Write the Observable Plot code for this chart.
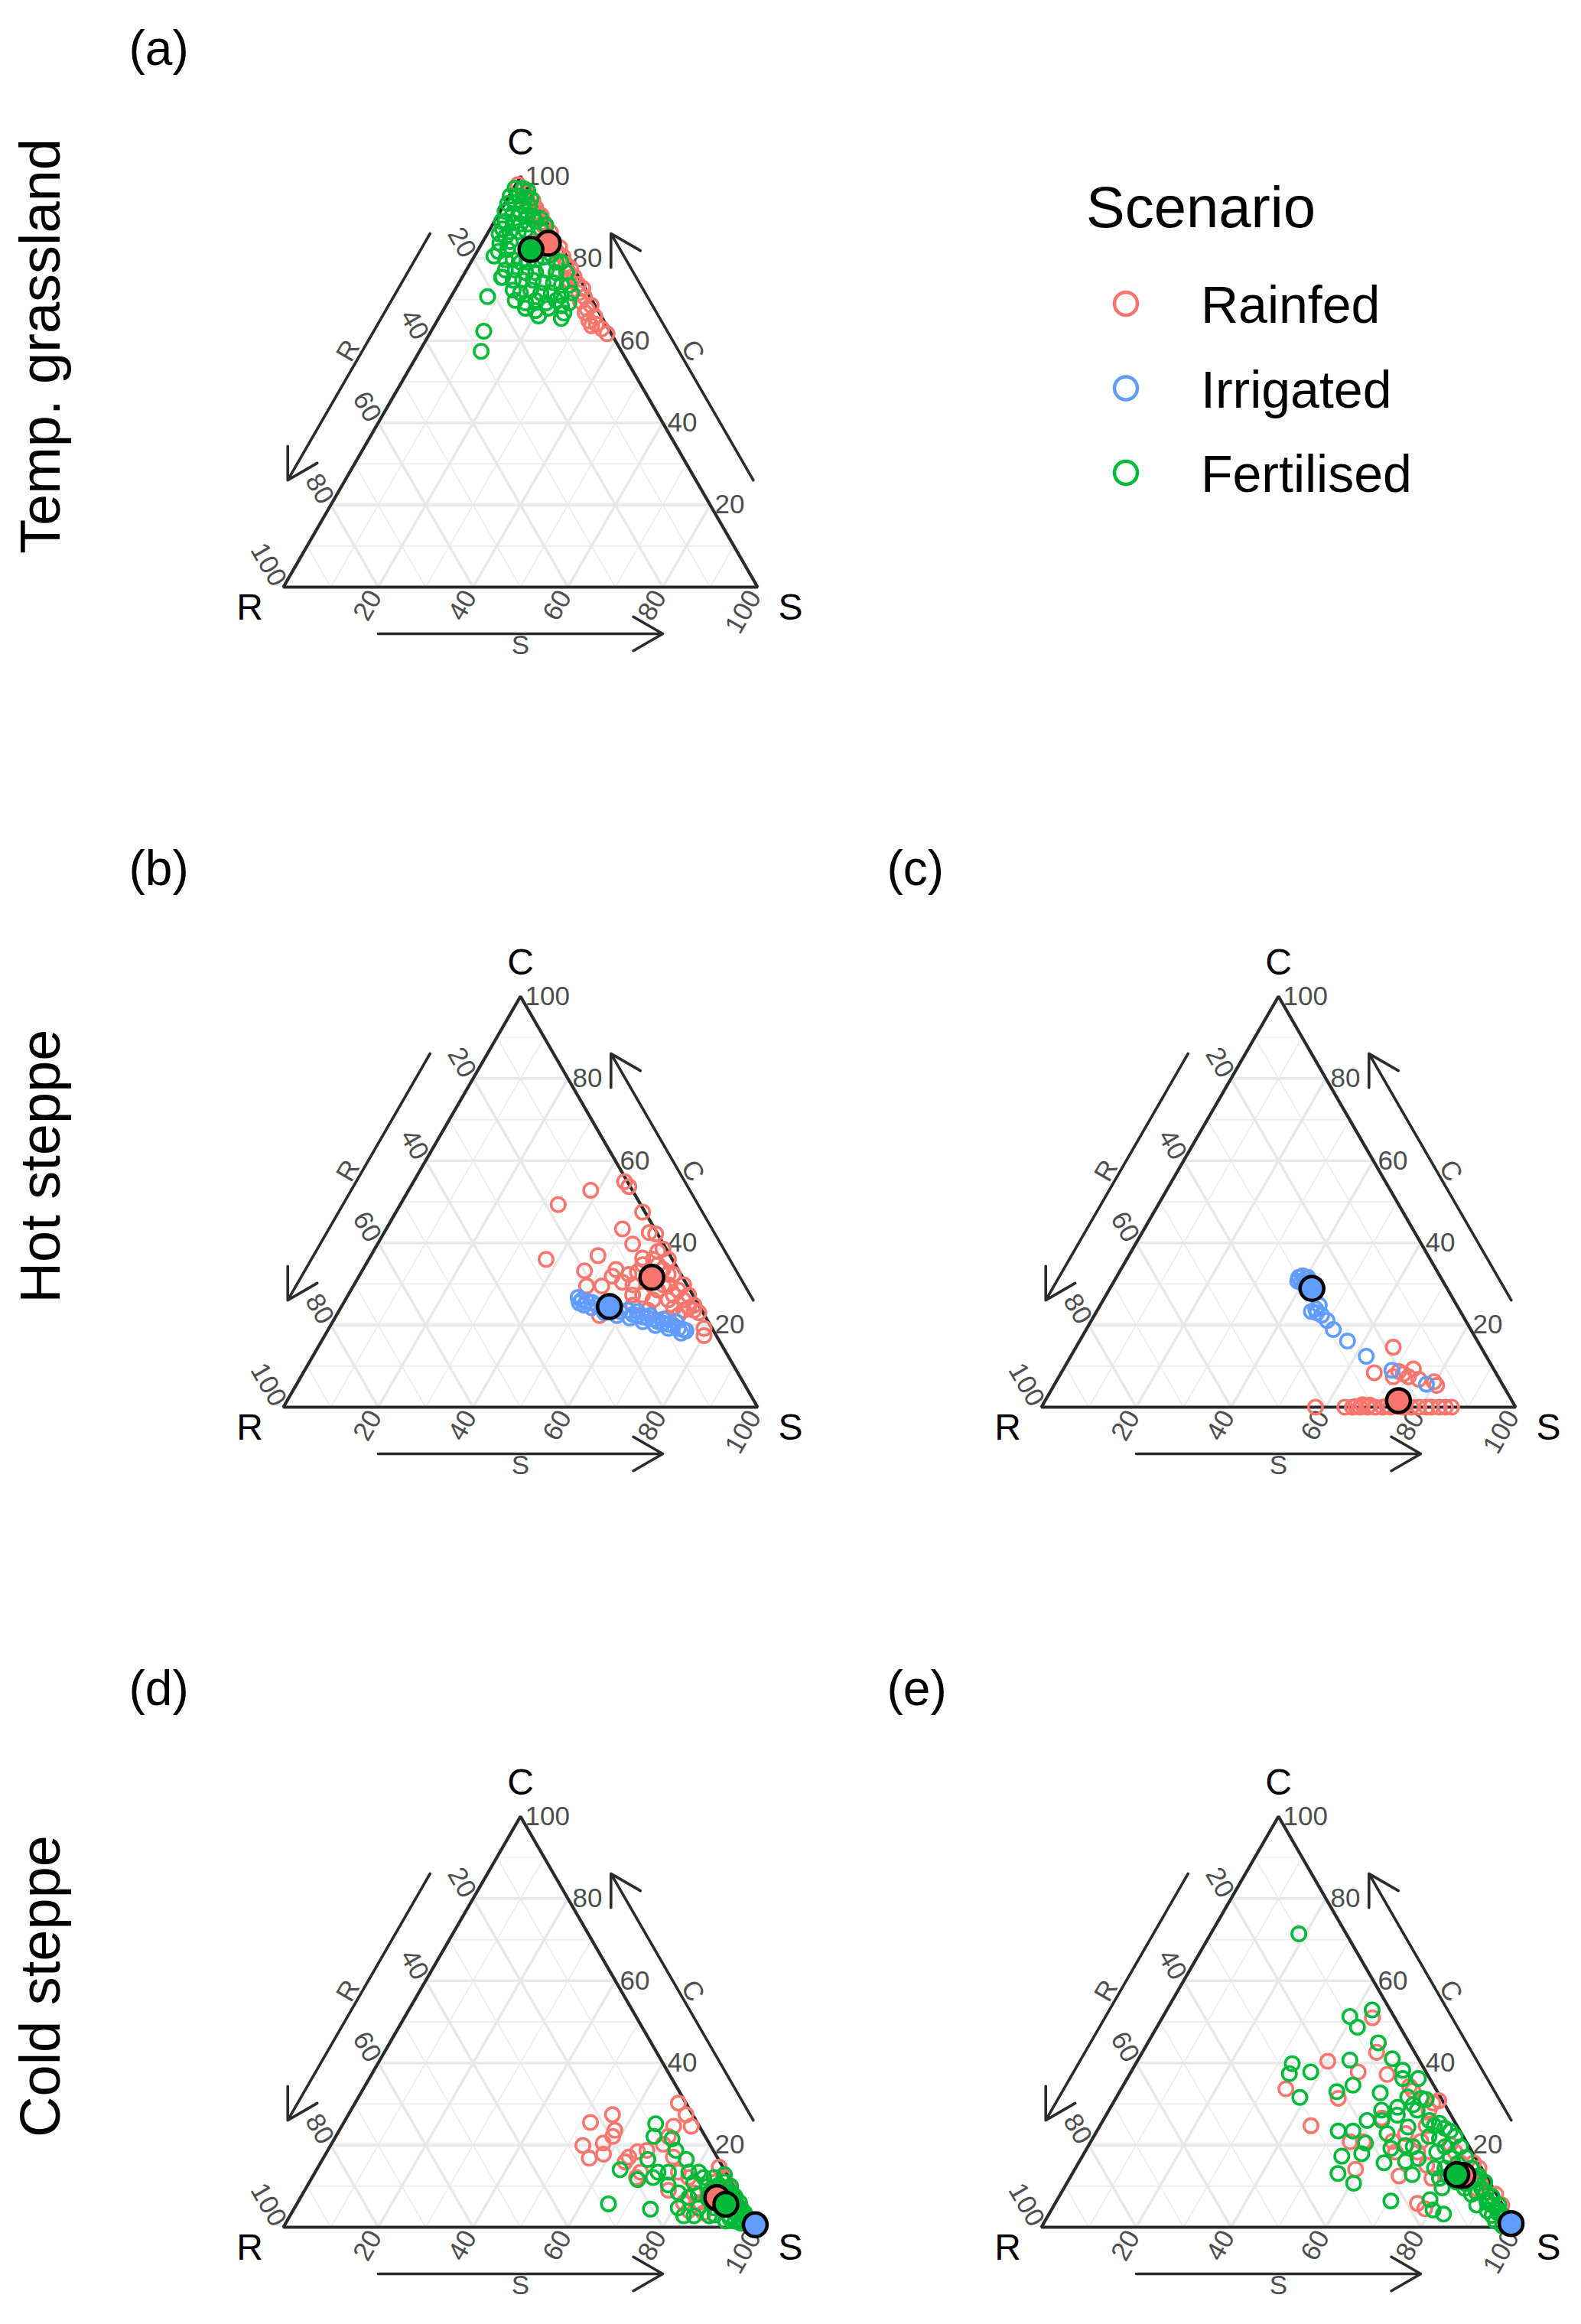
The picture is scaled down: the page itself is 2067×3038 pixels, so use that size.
<!DOCTYPE html>
<html><head><meta charset="utf-8">
<script src="https://cdn.jsdelivr.net/npm/d3@7"></script>
<script src="https://cdn.jsdelivr.net/npm/@observablehq/plot@0.6"></script>
<style>
html,body{margin:0;padding:0;background:#fff;}
#fig{position:relative;width:2067px;height:3038px;overflow:hidden;font-family:"Liberation Sans",Arial,Helvetica,sans-serif;background:#fff;}
.panel{position:absolute;}
.panel svg{overflow:visible;}
</style></head><body><div id="fig"></div>
<script>
// ---------- categories / styles ----------
const scenarios = ["Rainfed", "Irrigated", "Fertilised"];
const colours = ["#F8766D", "#619CFF", "#00BA38"];
const tickValues = [20, 40, 60, 80, 100];
const gridLevels = [10, 20, 30, 40, 50, 60, 70, 80, 90];
const rowLabels = ["Temp. grassland", "Hot steppe", "Cold steppe"];

// ---------- data: [R, S, C] in % ----------
// (a) Temp. grassland
const a_rainfed = [[1.5,0.5,98.0],[0.8,2.2,97.0],[0.5,3.5,96.0],[1.2,4.0,94.8],[0.3,5.5,94.2],[2.0,4.8,93.2],[0.6,7.0,92.4],[1.0,7.8,91.2],[0.4,9.1,90.5],[1.8,8.6,89.6],[0.7,10.5,88.8],[1.1,11.2,87.7],[2.5,10.6,86.9],[0.5,13.2,86.3],[1.3,13.5,85.2],[0.9,14.9,84.2],[2.2,14.5,83.3],[0.4,16.9,82.7],[1.5,17.0,81.5],[0.8,18.7,80.5],[2.0,18.6,79.4],[1.1,20.3,78.6],[0.6,21.8,77.6],[1.7,21.7,76.6],[0.9,23.5,75.6],[2.4,23.0,74.6],[1.0,25.3,73.7],[0.5,26.8,72.7],[1.9,26.5,71.6],[1.2,28.2,70.6],[2.6,27.8,69.6],[0.8,30.6,68.6],[2.1,30.2,67.7],[3.0,30.2,66.8],[1.4,32.7,65.9],[3.2,32.0,64.8],[2.0,34.0,64.0],[1.4,35.7,62.9],[3.2,33.2,63.6],[0.9,37.4,61.7]];
const a_fertilised = [[2.6,0.3,97.1],[1.0,2.0,97.0],[0.2,3.3,96.5],[4.6,0.2,95.2],[2.9,1.9,95.2],[1.5,3.6,94.9],[0.5,4.9,94.6],[6.0,0.6,93.4],[4.4,2.2,93.4],[3.1,4.1,92.8],[1.7,5.5,92.8],[7.5,1.0,91.5],[6.2,2.9,90.9],[4.5,4.6,90.9],[3.1,6.3,90.6],[2.2,7.5,90.3],[8.7,2.3,89.0],[7.2,4.1,88.7],[5.8,5.8,88.4],[4.2,7.4,88.4],[2.3,8.7,89.0],[0.9,9.4,89.7],[10.2,2.6,87.2],[9.0,4.5,86.5],[7.2,6.3,86.5],[5.5,7.6,86.9],[2.1,10.7,87.2],[0.6,11.3,88.1],[10.5,4.2,85.3],[10.1,5.8,84.1],[11.6,6.2,82.2],[13.3,7.0,79.7],[11.7,8.6,79.7],[10.4,10.5,79.1],[8.8,12.1,79.1],[6.9,13.4,79.7],[5.0,14.7,80.3],[3.0,16.1,80.9],[2.9,18.0,79.1],[1.9,19.0,79.1],[14.6,8.2,77.2],[12.5,10.3,77.2],[10.6,12.8,76.6],[8.5,14.9,76.6],[6.0,16.8,77.2],[4.2,19.2,76.6],[2.0,21.4,76.6],[16.1,8.5,75.4],[14.2,11.1,74.7],[12.2,13.1,74.7],[10.0,15.3,74.7],[8.2,17.7,74.1],[6.0,19.9,74.1],[4.6,21.9,73.5],[3.0,23.5,73.5],[15.4,12.3,72.3],[14.2,14.2,71.6],[11.7,16.0,72.3],[9.9,18.5,71.6],[7.7,20.7,71.6],[5.9,23.1,71.0],[3.4,25.0,71.6],[16.2,14.0,69.8],[14.3,16.5,69.2],[11.9,18.3,69.8],[10.0,20.8,69.2],[7.6,22.6,69.8],[5.2,25.6,69.2],[15.0,17.1,67.9],[13.2,19.5,67.3],[10.2,21.9,67.9],[7.1,24.4,68.5],[13.2,20.8,66.0],[8.7,25.9,65.4],[7.5,25.8,66.7],[15.3,4.1,80.6],[21.6,7.7,70.7],[26.6,11.1,62.3],[29.6,13.0,57.4],[16.3,8.3,75.4],[9.5,1.5,89.0],[11.5,2.5,86.0],[12.5,3.8,83.7],[13.8,4.5,81.7]];
const a_means = [["Rainfed",2.3,14.0,83.7],["Fertilised",6.7,11.1,82.2]];

// (b) Hot steppe, left
const b_rainfed = [[0.6,44.5,54.9],[0.3,46.0,53.7],[8.8,38.4,52.8],[17.4,33.3,49.3],[0.5,52.0,47.5],[6.8,49.8,43.4],[1.6,55.9,42.5],[0.4,57.4,42.2],[6.5,53.8,39.7],[26.6,37.4,36.0],[15.2,47.9,36.9],[6.1,57.6,36.3],[0.7,60.8,38.5],[19.9,46.9,33.2],[21.3,49.2,29.5],[18.1,52.4,29.5],[13.1,53.4,33.5],[14.7,53.4,31.9],[13.3,56.3,30.4],[11.4,58.8,29.8],[6.9,58.4,34.7],[2.1,60.0,37.9],[0.8,63.2,36.0],[3.2,63.3,33.5],[1.6,66.1,32.3],[3.9,66.3,29.8],[2.5,69.0,28.5],[6.8,64.7,28.5],[10.6,62.1,27.3],[9.0,64.9,26.1],[5.8,68.1,26.1],[2.6,71.3,26.1],[2.4,73.4,24.2],[5.6,70.2,24.2],[5.6,72.1,22.3],[1.6,74.8,23.6],[0.9,76.1,23.0],[1.7,79.1,19.2],[2.6,80.0,17.4],[22.2,55.5,22.3],[11.3,65.1,23.6],[13.9,61.3,24.8],[8.0,70.3,21.7],[11.0,56.7,32.3],[8.9,58.2,32.9],[6.8,62.8,30.4],[7.0,60.7,32.3],[12.7,60.0,27.3],[5.0,65.2,29.8],[0.7,69.5,29.8],[3.7,61.6,34.7],[4.0,60.0,36.0],[2.7,65.0,32.3],[0.9,71.8,27.3],[4.1,68.6,27.3],[1.0,74.2,24.8],[3.8,72.6,23.6]];
const b_irrigated = [[24.6,48.8,26.7],[24.0,49.9,26.1],[23.1,51.1,25.8],[22.2,52.3,25.5],[21.5,53.7,24.8],[20.7,55.1,24.2],[19.6,56.2,24.2],[18.3,58.1,23.6],[17.4,59.3,23.3],[15.6,60.8,23.6],[15.0,62.4,22.6],[14.2,63.5,22.3],[13.2,64.8,22.0],[12.3,66.0,21.7],[11.3,67.3,21.4],[10.6,68.6,20.8],[9.7,69.8,20.5],[8.7,71.1,20.2],[7.8,72.3,19.9],[7.1,73.7,19.2],[6.2,74.9,18.9],[5.8,75.6,18.6],[7.1,74.9,18.0],[9.2,71.6,19.2],[11.6,68.5,19.9],[13.8,65.4,20.8],[16.1,62.2,21.7],[18.5,59.2,22.3],[20.8,56.2,23.0],[22.9,52.9,24.2],[24.2,51.0,24.8],[24.9,49.7,25.4],[13.7,63.0,23.3],[11.5,66.2,22.3],[9.2,69.4,21.4],[6.8,72.4,20.8]];
const b_means = [["Rainfed",6.5,61.9,31.6],["Irrigated",19.0,56.5,24.5]];

// (c) Hot steppe, right
const c_rainfed = [[18.5,66.9,14.6],[25.6,66.0,8.4],[16.9,73.8,9.3],[19.6,72.3,8.1],[22.1,70.5,7.4],[20.3,71.0,8.7],[14.1,79.7,6.2],[14.0,80.7,5.3],[17.0,76.2,6.8],[18.9,73.7,7.4],[42.2,57.8,0],[36.0,64.0,0],[34.4,65.6,0],[32.8,67.2,0],[31.2,68.8,0],[29.6,70.4,0],[28.0,72.0,0],[26.4,73.6,0],[23.7,76.3,0],[22.0,78.0,0],[20.4,79.6,0],[18.8,81.2,0],[17.8,82.2,0],[16.1,83.9,0],[14.8,85.2,0],[13.5,86.5,0],[32.0,67.4,0.6],[30.5,69.0,0.5],[27.0,72.7,0.3],[25.0,74.6,0.4],[33.6,66.2,0.2],[24.8,75.0,0.2]];
const c_irrigated = [[29.9,38.5,31.6],[28.9,39.1,32.0],[28.4,40.2,31.4],[30.0,39.6,30.4],[29.1,40.2,30.7],[28.2,41.1,30.7],[30.6,38.7,30.7],[29.7,40.5,29.8],[28.7,41.5,29.8],[27.6,42.3,30.1],[28.0,40.4,31.6],[29.0,46.2,24.8],[31.4,45.3,23.3],[30.4,46.6,23.0],[29.7,47.9,22.4],[29.2,49.7,21.1],[29.0,52.1,18.9],[27.4,56.5,16.1],[25.3,62.3,12.4],[21.6,69.4,9.0],[16.0,78.4,5.6],[30.2,45.9,23.9]];
const c_means = [["Rainfed",23.9,74.5,1.6],["Irrigated",28.5,42.6,28.9]];

// (d) Cold steppe, left
const d_rainfed = [[22.5,52.0,25.5],[16.9,55.7,27.4],[26.9,53.2,19.9],[27.1,56.1,16.8],[22.3,57.2,20.5],[18.3,58.1,23.6],[19.5,58.4,22.1],[23.6,58.6,17.8],[18.6,64.3,17.1],[16.1,65.5,18.4],[14.0,67.3,18.7],[20.0,64.1,15.9],[19.5,68.4,12.1],[18.0,68.6,13.4],[1.6,68.2,30.2],[1.4,71.2,27.4],[1.7,73.7,24.6],[5.4,70.0,24.6],[9.8,70.0,20.2],[7.8,70.1,22.1],[9.2,73.7,17.1],[0.8,84.6,14.6],[14.3,76.7,9.0],[8.5,79.4,12.1],[9.2,82.4,8.4],[9.4,84.6,6.0],[6.6,86.2,7.2],[12.5,83.4,4.1],[9.6,86.9,3.5],[1.0,86.9,12.1],[1.1,89.2,9.7],[10.0,76.6,13.4],[12.7,81.4,5.9],[3.7,85.4,10.9]];
const d_irrigated = [[0.3,99.5,0.2],[0.5,99.0,0.5],[0.2,99.3,0.5]];
const d_fertilised = [[8.9,65.9,25.2],[10.8,67.1,22.1],[7.3,71.2,21.5],[7.9,73.4,18.7],[6.8,76.7,16.5],[22.0,64.0,14.0],[14.9,68.6,16.5],[19.5,68.9,11.6],[16.0,71.9,12.1],[14.3,72.3,13.4],[12.1,74.5,13.4],[28.6,65.7,5.7],[20.4,75.2,4.4],[13.7,76.0,10.3],[12.5,79.1,8.4],[7.8,78.8,13.4],[8.0,81.1,10.9],[5.7,80.9,13.4],[5.3,82.6,12.1],[10.9,81.9,7.2],[10.1,85.2,4.7],[12.0,85.2,2.8],[6.0,85.6,8.4],[3.1,84.8,12.1],[3.0,86.7,10.3],[2.8,88.8,8.4],[2.3,90.5,7.2],[1.8,92.2,6.0],[1.5,93.8,4.7],[1.0,95.5,3.5],[6.8,88.5,4.7],[8.8,88.4,2.8],[4.5,92.7,2.8],[0.6,86.6,12.8],[14.2,83.0,2.8],[14.4,80.9,4.7],[0.5,98.5,1.0],[1.5,97.0,1.5],[3.0,96.0,1.0],[1.0,96.5,2.5],[2.5,94.0,3.5],[4.0,94.5,1.5],[0.8,97.8,1.4],[6.0,92.5,1.5],[4.0,89.0,7.0],[5.0,87.5,7.5],[3.5,90.5,6.0],[7.0,86.0,7.0],[2.0,88.5,9.5],[5.5,84.5,10.0],[8.5,83.5,8.0],[4.5,86.0,9.5],[2.0,91.0,7.0],[3.5,91.5,5.0],[1.5,90.0,8.5],[2.5,92.5,5.0],[1.2,94.3,4.5],[4.5,91.0,4.5],[3.0,93.5,3.5],[1.8,95.2,3.0],[0.8,93.2,6.0],[5.5,90.0,4.5],[2.2,96.3,1.5],[4.8,93.2,2.0],[7.5,89.5,3.0],[1.0,91.5,7.5],[0.7,89.3,10.0],[1.5,87.5,11.0],[3.0,89.5,7.5]];
const d_means = [["Rainfed",5.0,87.8,7.2],["Irrigated",0.2,99.2,0.6],["Fertilised",3.9,90.5,5.6]];

// (e) Cold steppe, right
const e_rainfed = [[19.4,40.2,40.4],[4.7,44.3,51.0],[14.3,47.9,37.8],[8.5,54.3,37.2],[8.0,49.4,42.6],[31.6,34.7,33.7],[21.7,46.9,31.4],[30.8,44.5,24.7],[5.2,60.5,34.3],[5.0,61.7,33.3],[2.3,67.5,30.2],[4.0,67.5,28.5],[14.9,58.5,26.6],[24.5,54.7,20.8],[21.7,57.5,20.8],[26.7,59.2,14.1],[18.3,69.2,12.5],[17.8,76.4,5.8],[16.9,78.6,4.5],[16.2,65.5,18.3],[11.5,70.2,18.3],[11.2,73.7,15.1],[11.7,76.4,11.9],[9.5,69.6,20.9],[11.8,65.4,22.8],[1.0,83.3,15.7],[0.5,85.1,14.4],[2.1,87.3,10.6],[0.2,91.8,8.0],[0.2,94.4,5.4],[15.5,63.6,20.9],[6.5,68.8,24.7],[0.8,68.4,30.8],[3.7,76.1,20.2],[3.6,78.1,18.3],[3.8,80.5,15.7],[4.3,83.2,12.5],[3.5,87.2,9.3]];
const e_irrigated = [[0.3,99.5,0.2],[0.6,99.0,0.4]];
const e_fertilised = [[10.0,18.6,71.4],[3.8,43.3,52.9],[9.3,39.4,51.3],[9.0,42.3,48.7],[6.5,48.6,44.9],[5.5,53.5,41.0],[14.6,44.7,40.7],[27.2,33.0,39.8],[29.0,33.6,37.4],[24.3,37.9,37.8],[4.7,57.1,38.2],[5.7,58.1,36.2],[2.4,61.4,36.2],[17.0,48.4,34.6],[21.2,45.8,33.0],[29.7,38.7,31.6],[12.2,55.1,32.7],[4.2,64.4,31.4],[3.3,65.6,31.1],[6.7,63.5,29.8],[6.5,65.0,28.5],[14.0,57.5,28.5],[11.3,61.4,27.3],[18.3,55.7,26.0],[25.7,50.9,23.4],[22.6,54.0,23.4],[21.4,58.1,20.5],[15.7,61.5,22.8],[10.5,65.1,24.4],[13.3,66.8,19.9],[16.7,64.1,19.2],[23.5,58.6,17.9],[28.0,54.7,17.3],[30.9,56.0,13.1],[28.8,60.5,10.7],[19.9,64.4,15.7],[15.2,68.8,16.0],[12.2,71.1,16.7],[15.4,71.8,12.8],[23.1,70.5,6.4],[14.7,78.6,6.7],[15.3,80.5,4.2],[13.6,83.2,3.2],[10.7,79.7,9.6],[5.2,68.8,26.0],[4.8,70.5,24.7],[3.4,71.3,25.3],[2.9,73.0,24.1],[2.1,74.5,23.4],[7.2,70.7,22.1],[5.3,73.2,21.5],[1.7,76.2,22.1],[5.1,75.3,19.6],[1.8,78.6,19.6],[7.5,74.2,18.3],[5.3,77.7,17.0],[2.0,81.0,17.0],[9.9,75.7,14.4],[7.7,77.9,14.4],[2.1,83.5,14.4],[10.1,78.0,11.9],[5.2,84.2,10.6],[2.3,85.8,11.9],[5.3,86.7,8.0],[2.5,88.2,9.3],[2.7,90.6,6.7],[5.5,89.1,5.4],[2.2,92.4,5.4],[1.7,94.1,4.2],[3.5,93.6,2.9],[1.3,95.8,2.9],[2.6,97.1,0.3],[0.8,97.6,1.6],[11.8,68.6,19.6],[6.9,61.4,31.7],[10.3,60.5,29.2],[15.2,58.8,26.0],[1.5,86.0,12.5],[3.0,85.5,11.5],[1.0,88.0,11.0],[2.0,89.5,8.5],[4.0,87.5,8.5],[1.2,91.3,7.5],[3.0,91.0,6.0],[0.8,93.7,5.5],[2.0,94.5,3.5],[4.0,92.0,4.0],[1.0,96.5,2.5],[3.5,95.0,1.5],[6.5,80.0,13.5],[8.0,79.5,12.5],[7.0,82.0,11.0],[4.5,80.0,15.5],[6.0,84.5,9.5]];
const e_means = [["Rainfed",4.8,82.6,12.6],["Irrigated",0.5,98.6,0.9],["Fertilised",6.0,81.2,12.8]];

const panels = [
  {tag: "(a)", row: 0, col: 0, series: {Rainfed: a_rainfed, Fertilised: a_fertilised}, means: a_means},
  {tag: "(b)", row: 1, col: 0, series: {Rainfed: b_rainfed, Irrigated: b_irrigated}, means: b_means},
  {tag: "(c)", row: 1, col: 1, series: {Rainfed: c_rainfed, Irrigated: c_irrigated}, means: c_means},
  {tag: "(d)", row: 2, col: 0, series: {Rainfed: d_rainfed, Irrigated: d_irrigated, Fertilised: d_fertilised}, means: d_means},
  {tag: "(e)", row: 2, col: 1, series: {Rainfed: e_rainfed, Irrigated: e_irrigated, Fertilised: e_fertilised}, means: e_means}
];

// ---------- layout ----------
const W = 1076, H = 894, RX = 370, BASE = 767, UX = 6.2, UY = 5.37;
const COL = 991, ROW = 1072;
const FONT = "Liberation Sans, Arial, Helvetica, sans-serif";
const INK = "#2B2B2B", TICK = "#4D4D4D";

const X = d => d.S + d.C / 2;
const Y = d => d.C;

function makePanel(p) {
  const pts = [];
  scenarios.forEach(s => (p.series[s] || []).forEach(v => pts.push({scenario: s, R: v[0], S: v[1], C: v[2]})));
  const means = p.means.map(m => ({scenario: m[0], R: m[1], S: m[2], C: m[3]}));
  means.sort((a, b) => scenarios.indexOf(a.scenario) - scenarios.indexOf(b.scenario));

  const grid = gridLevels.flatMap(k => [
    {k, a: {R: 100 - k, S: 0, C: k}, b: {R: 0, S: 100 - k, C: k}},
    {k, a: {R: 100 - k, S: k, C: 0}, b: {R: 0, S: k, C: 100 - k}},
    {k, a: {R: k, S: 100 - k, C: 0}, b: {R: k, S: 0, C: 100 - k}}
  ]);
  const linkOpts = {x1: g => X(g.a), y1: g => Y(g.a), x2: g => X(g.b), y2: g => Y(g.b)};

  const vR = {R: 100, S: 0, C: 0}, vS = {R: 0, S: 100, C: 0}, vC = {R: 0, S: 0, C: 100};
  const dA = 65 / UY, dAb = 61 / UY, dL = 81 / UY, dLb = 76 / UY;
  const leftPt = (f, d) => ({R: 100 * f + d / 2, S: -d, C: 100 * (1 - f) + d / 2});
  const rightPt = (f, d) => ({R: -d, S: 100 * (1 - f) + d / 2, C: 100 * f + d / 2});
  const bottomPt = (f, d) => ({R: 100 * (1 - f) + d / 2, S: 100 * f + d / 2, C: -d});
  const arrows = [
    {a: leftPt(0.2, dA), b: leftPt(0.8, dA)},
    {a: rightPt(0.2, dA), b: rightPt(0.8, dA)},
    {a: bottomPt(0.2, dAb), b: bottomPt(0.8, dAb)}
  ];
  const arrowLabels = [
    {...leftPt(0.5, dL), text: "R", rot: -60},
    {...rightPt(0.5, dL), text: "C", rot: 60},
    {...bottomPt(0.5, dLb), text: "S", rot: 0}
  ];
  const rightTicks = tickValues.map(v => ({v, R: 0, S: 100 - v, C: v}));
  const leftTicks = tickValues.map(v => ({v, R: v, S: 0, C: 100 - v}));
  const bottomTicks = tickValues.map(v => ({v, R: 100 - v, S: v, C: 0}));

  const marks = [
    Plot.link(grid.filter(g => g.k % 20 !== 0), {...linkOpts, stroke: "#EDEDED", strokeWidth: 1.8}),
    Plot.link(grid.filter(g => g.k % 20 === 0), {...linkOpts, stroke: "#E8E8E8", strokeWidth: 3.6}),
    Plot.line([vR, vS, vC, vR, vS], {x: X, y: Y, stroke: INK, strokeWidth: 4.2, strokeLinejoin: "miter", strokeLinecap: "butt"}),
    Plot.arrow(arrows, {x1: g => X(g.a), y1: g => Y(g.a), x2: g => X(g.b), y2: g => Y(g.b), stroke: INK, strokeWidth: 3.6, headLength: 18.5, headAngle: 60}),
    Plot.text(arrowLabels, {x: X, y: Y, text: "text", rotate: "rot", fontSize: 35, fill: TICK}),
    Plot.text(rightTicks, {x: X, y: Y, text: d => String(d.v), textAnchor: "start", dx: 6, fontSize: 35, fill: TICK}),
    Plot.text(leftTicks, {x: X, y: Y, text: d => String(d.v), textAnchor: "end", rotate: 60, dx: -5, dy: -4, fontSize: 35, fill: TICK}),
    Plot.text(bottomTicks, {x: X, y: Y, text: d => String(d.v), textAnchor: "end", rotate: -60, dx: -4, dy: 7, fontSize: 35, fill: TICK}),
    Plot.text([vR], {x: X, y: Y, text: () => "R", dx: -44, dy: 27, fontSize: 48, fill: "black"}),
    Plot.text([vS], {x: X, y: Y, text: () => "S", dx: 43, dy: 27, fontSize: 48, fill: "black"}),
    Plot.text([vC], {x: X, y: Y, text: () => "C", dy: -44, fontSize: 48, fill: "black"}),
    Plot.dot(pts, {x: X, y: Y, stroke: "scenario", fill: "none", r: 9.2, strokeWidth: 3.6}),
    Plot.dot(means, {x: X, y: Y, fill: "scenario", stroke: "black", r: 15.5, strokeWidth: 4.5}),
    Plot.text([p.tag], {frameAnchor: "top-left", textAnchor: "start", lineAnchor: "bottom", dx: 168, dy: 84, fontSize: 64, fill: "black"})
  ];
  if (p.col === 0) {
    marks.push(Plot.text([rowLabels[p.row]], {frameAnchor: "top-left", textAnchor: "middle", lineAnchor: "bottom", rotate: -90, dx: 77, dy: 452, fontSize: 74, fill: "black"}));
  }

  return Plot.plot({
    width: W, height: H, margin: 0,
    x: {domain: [-RX / UX, (W - RX) / UX], range: [0, W], axis: null},
    y: {domain: [(BASE - H) / UY, BASE / UY], range: [H, 0], axis: null},
    color: {domain: scenarios, range: colours},
    style: {fontFamily: FONT, overflow: "visible", background: "transparent"},
    marks
  });
}

const fig = document.getElementById("fig");
for (const p of panels) {
  const div = document.createElement("div");
  div.className = "panel";
  div.style.left = (p.col * COL) + "px";
  div.style.top = (p.row * ROW) + "px";
  div.style.width = W + "px";
  div.style.height = H + "px";
  div.appendChild(makePanel(p));
  fig.appendChild(div);
}

// ---------- legend ----------
const legendItems = scenarios.map((s, i) => ({s, c: colours[i], y: 397 + i * 110.5}));
const leg = d3.select(fig).append("svg")
  .attr("width", 700).attr("height", 560)
  .style("position", "absolute").style("left", "1380px").style("top", "150px")
  .style("font-family", FONT);
leg.append("text").attr("x", 40).attr("y", 147).attr("font-size", 76).attr("fill", "black").text("Scenario");
leg.selectAll("circle").data(legendItems).join("circle")
  .attr("cx", 92).attr("cy", d => d.y - 150).attr("r", 15)
  .attr("fill", "none").attr("stroke", d => d.c).attr("stroke-width", 4.5);
leg.selectAll("text.item").data(legendItems).join("text").attr("class", "item")
  .attr("x", 190).attr("y", d => d.y - 150 + 25).attr("font-size", 68).attr("fill", "black").text(d => d.s);
</script></body></html>
